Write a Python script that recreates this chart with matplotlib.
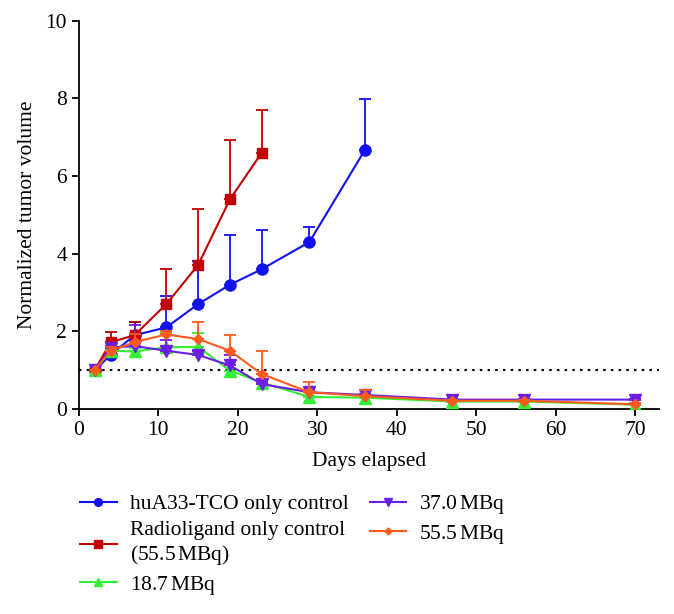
import numpy as np
import matplotlib.pyplot as plt
from matplotlib.lines import Line2D

plt.rcParams['font.family'] = ['Liberation Serif', 'DejaVu Serif']
plt.rcParams['mathtext.fontset'] = 'stix'

# huA33-TCO only control
days_blue = [2, 4, 7, 11, 15, 19, 23, 29, 36]
vol_blue = [1.0, 1.39, 1.9, 2.1, 2.7, 3.2, 3.6, 4.3, 6.68]
err_blue = [0.0, 0.1, 0.35, 0.8, 1.12, 1.28, 1.0, 0.4, 1.31]

# Radioligand only control (55.5 MBq)
days_red = [2, 4, 7, 11, 15, 19, 23]
vol_red = [1.0, 1.72, 1.9, 2.7, 3.71, 5.4, 6.6]
err_red = [0.0, 0.25, 0.33, 0.9, 1.44, 1.53, 1.1]

# 18.7 MBq
days_green = [2, 4, 7, 11, 15, 19, 23, 29, 36, 47, 56, 70]
vol_green = [1.0, 1.5, 1.48, 1.59, 1.6, 0.99, 0.68, 0.31, 0.29, 0.19, 0.19, 0.11]
err_green = [0.0, 0.05, 0.1, 0.38, 0.36, 0.27, 0.05, 0.03, 0.02, 0.01, 0.01, 0.01]

# 37.0 MBq
days_purple = [2, 4, 7, 11, 15, 19, 23, 29, 36, 47, 56, 70]
vol_purple = [1.0, 1.58, 1.62, 1.5, 1.39, 1.12, 0.64, 0.43, 0.36, 0.24, 0.24, 0.24]
err_purple = [0.0, 0.05, 0.55, 0.28, 0.1, 0.27, 0.05, 0.04, 0.03, 0.01, 0.01, 0.01]

# 55.5 MBq
days_orange = [2, 4, 7, 11, 15, 19, 23, 29, 36, 47, 56, 70]
vol_orange = [1.0, 1.5, 1.72, 1.92, 1.8, 1.5, 0.9, 0.43, 0.33, 0.21, 0.21, 0.12]
err_orange = [0.0, 0.1, 0.2, 0.1, 0.44, 0.41, 0.6, 0.27, 0.17, 0.02, 0.02, 0.02]

labels = ['huA33-TCO only control', 'Radioligand only control\n(55.5$\\,$MBq)',
          '18.7$\\,$MBq', '37.0$\\,$MBq', '55.5$\\,$MBq']

series = [
    (days_blue, vol_blue, err_blue, '#1010f0', 'o', 8),
    (days_red, vol_red, err_red, '#c00000', 's', 7.5),
    (days_green, vol_green, err_green, '#33ee33', '^', 8),
    (days_purple, vol_purple, err_purple, '#6a1ee8', 'v', 8),
    (days_orange, vol_orange, err_orange, '#ff5a1e', 'D', 5),
]
draw_order = [4, 3, 2, 0, 1]

fig = plt.figure(figsize=(6.74, 6.14), dpi=100)
ax = fig.add_axes([0.117, 0.334, 0.861, 0.632])

handles = [None] * 5
for i in draw_order:
    d, v, e, c, m, ms = series[i]
    v = np.array(v)
    e = np.array(e)
    ax.errorbar(d, v, yerr=[np.zeros_like(e), e], color=c, marker=m, ms=ms,
                lw=1.5, elinewidth=1.3, capsize=4, capthick=1.3, zorder=3 + i)
    handles[i] = Line2D([], [], color=c, marker=m, ms=ms * 0.7, lw=1.5)

ax.axhline(1.0, color='black', ls=(0, (1.2, 2.5)), lw=1.5, zorder=2)

ax.set_xlim(0, 73)
ax.set_ylim(0, 10)
ax.set_xticks(np.arange(0, 80, 10))
ax.set_yticks(np.arange(0, 12, 2))
ax.spines['top'].set_visible(False)
ax.spines['right'].set_visible(False)
ax.spines['left'].set_linewidth(1.3)
ax.spines['bottom'].set_linewidth(1.3)
ax.tick_params(direction='out', length=5, width=1.3, labelsize=15.5)
ax.set_xlabel('Days elapsed', fontsize=15.5, labelpad=9)
ax.set_ylabel('Normalized tumor volume', fontsize=15.5, labelpad=6)

fig.legend(handles, labels, loc='upper left', bbox_to_anchor=(0.09, 0.228),
           ncol=2, frameon=False, fontsize=15.5, handlelength=1.7,
           columnspacing=1.0, labelspacing=0.3, handletextpad=0.6)

fig.savefig('out.png', dpi=100)
